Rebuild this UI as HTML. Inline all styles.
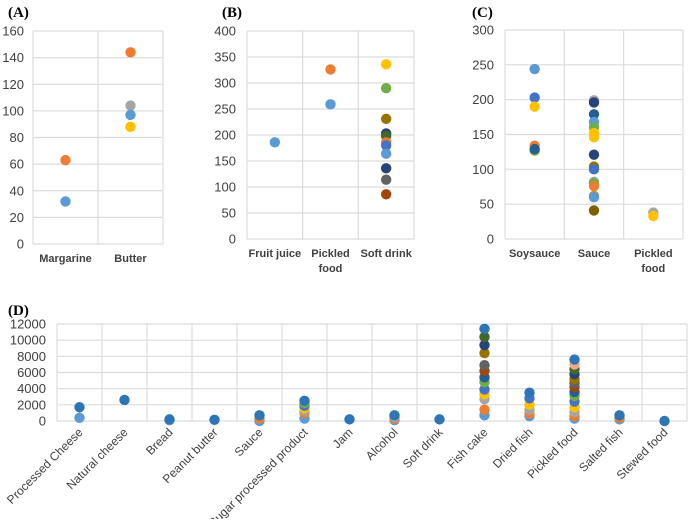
<!DOCTYPE html>
<html><head><meta charset="utf-8"><style>
body{margin:0;background:#fff;width:700px;height:519px;overflow:hidden}
svg{font-family:"Liberation Sans",Arial,sans-serif}
.t{font-family:"Liberation Serif",serif;font-weight:bold;font-size:15px;fill:#000}
.tick{font-size:13px;fill:#404040}
.cat{font-size:11px;font-weight:bold;fill:#404040}
.catd{font-size:12px;fill:#404040}
</style></head><body>
<svg id="chart" width="700" height="519">
<text class="t" x="8" y="17">(A)</text>
<text class="t" x="222" y="17">(B)</text>
<text class="t" x="472" y="17">(C)</text>
<text class="t" x="8" y="315">(D)</text>
</svg>
<script>
// Panel A
const catsA=["Margarine","Butter"];
const valsA=[[32,63],[144,104,97,88]];
const ticksA=[0,20,40,60,80,100,120,140,160];
// Panel B
const catsB=[["Fruit juice"],["Pickled","food"],["Soft drink"]];
const valsB=[[186],[259,326],[336,290,231,203,198,186,180,164,136,114,86]];
const ticksB=[0,50,100,150,200,250,300,350,400];
// Panel C
const catsC=[["Soysauce"],["Sauce"],["Pickled","food"]];
const valsC=[[244,203,190,134,127,129],[199,196,179,168,160,152,146,121,104,100,82,80,76,62,60,41],[38,33]];
const ticksC=[0,50,100,150,200,250,300];
// Panel D
const catsD=["Processed Cheese","Natural cheese","Bread","Peanut butter","Sauce","Sugar processed product","Jam","Alcohol","Soft drink","Fish cake","Dried fish","Pickled food","Salted fish","Stewed food"];
const valsD=[[400,1700],[2600],[100,200],[150],[0,300,700],[300,1000,1300,1600,1900,2200,2500],[200],[100,300,500,700],[200],[700,1400,2700,3300,3900,4800,5400,6200,6900,8400,9400,10400,11400],[600,900,1400,2000,2800,3500],[300,600,1100,1700,2400,3100,3600,4200,4700,5200,5800,6400,7000,7600],[200,400,700],[0]];
const ticksD=[0,2000,4000,6000,8000,10000,12000];

const palA=[["#5b9bd5","#ed7d31"],["#ed7d31","#a5a5a5","#5b9bd5","#ffc000"]];
const palB=[["#5b9bd5"],["#5b9bd5","#ed7d31"],["#ffc000","#70ad47","#997300","#264478","#43682b","#ed7d31","#4472c4","#5b9bd5","#264478","#636363","#9e480e"]];
const palC=[["#5b9bd5","#4472c4","#ffc000","#ed7d31","#70ad47","#255e91"],["#a5a5a5","#264478","#255e91","#5b9bd5","#70ad47","#ffc000","#ffc000","#264478","#997300","#4472c4","#a5a5a5","#70ad47","#ed7d31","#c59a1f","#5b9bd5","#7f6000"],["#a5a5a5","#ffc000"]];
const palD=["#5b9bd5","#ed7d31","#a5a5a5","#ffc000","#4472c4","#70ad47","#255e91","#9e480e","#636363","#997300","#264478","#43682b","#f4a582","#9dc3e6"];
const NS="http://www.w3.org/2000/svg";
const svg=document.getElementById('chart');
function mk(tag,attrs){const e=document.createElementNS(NS,tag);for(const k in attrs)e.setAttribute(k,attrs[k]);svg.appendChild(e);return e;}

function panel(id,L,R,T,B,cats,vals,ticks,pal,rot,tickX){
  const max=ticks[ticks.length-1];
  const y=v=>B-(v/max)*(B-T);
  const n=cats.length, w=(R-L)/n;
  const x=i=>L+w*(i+0.5);
  ticks.forEach(t=>{
    const g=mk('line',{x1:L,x2:R,y1:y(t),y2:y(t),stroke:'#dcdcdc','stroke-width':1.2});
    
    
    const tx=mk('text',{x:tickX,y:y(t)+4.5,'text-anchor':'end',class:'tick'});
    tx.textContent=t;
    
    
  });
  for(let i=0;i<=n;i++){
    const l=mk('line',{x1:L+w*i,x2:L+w*i,y1:T,y2:B,stroke:'#dcdcdc','stroke-width':1.2});
    
    
  }
  cats.forEach((c,i)=>{
    if(rot){
      const tx=mk('text',{x:x(i)+4,y:B+12,'text-anchor':'end',class:'catd',transform:`rotate(-45 ${x(i)+4} ${B+12})`});
      tx.textContent=c;
      
      
    } else {
      const lines=Array.isArray(c)?c:[c];
      lines.forEach((s,j)=>{
        const tx=mk('text',{x:x(i),y:B+18+j*15,'text-anchor':'middle',class:'cat'});
        tx.textContent=s;
        
        
      });
    }
  });
  vals.forEach((arr,i)=>{
    arr.forEach((v,j)=>{
      let col=rot?(j===arr.length-1?"#2e75b6":palD[j%palD.length]):pal[i][j%pal[i].length];
      const d=mk('circle',{cx:x(i),cy:y(v),r:5.2,fill:col});
      
      
    });
  });
}
panel('panel-a',33,163,31,244,catsA,valsA,ticksA,palA,false,24);
panel('panel-b',247,414,31,239,catsB,valsB,ticksB,palB,false,236);
panel('panel-c',505,683,30,239,catsC,valsC,ticksC,palC,false,494);
panel('panel-d',57,687,324,421,catsD,valsD,ticksD,null,true,46);
</script>
</body></html>
